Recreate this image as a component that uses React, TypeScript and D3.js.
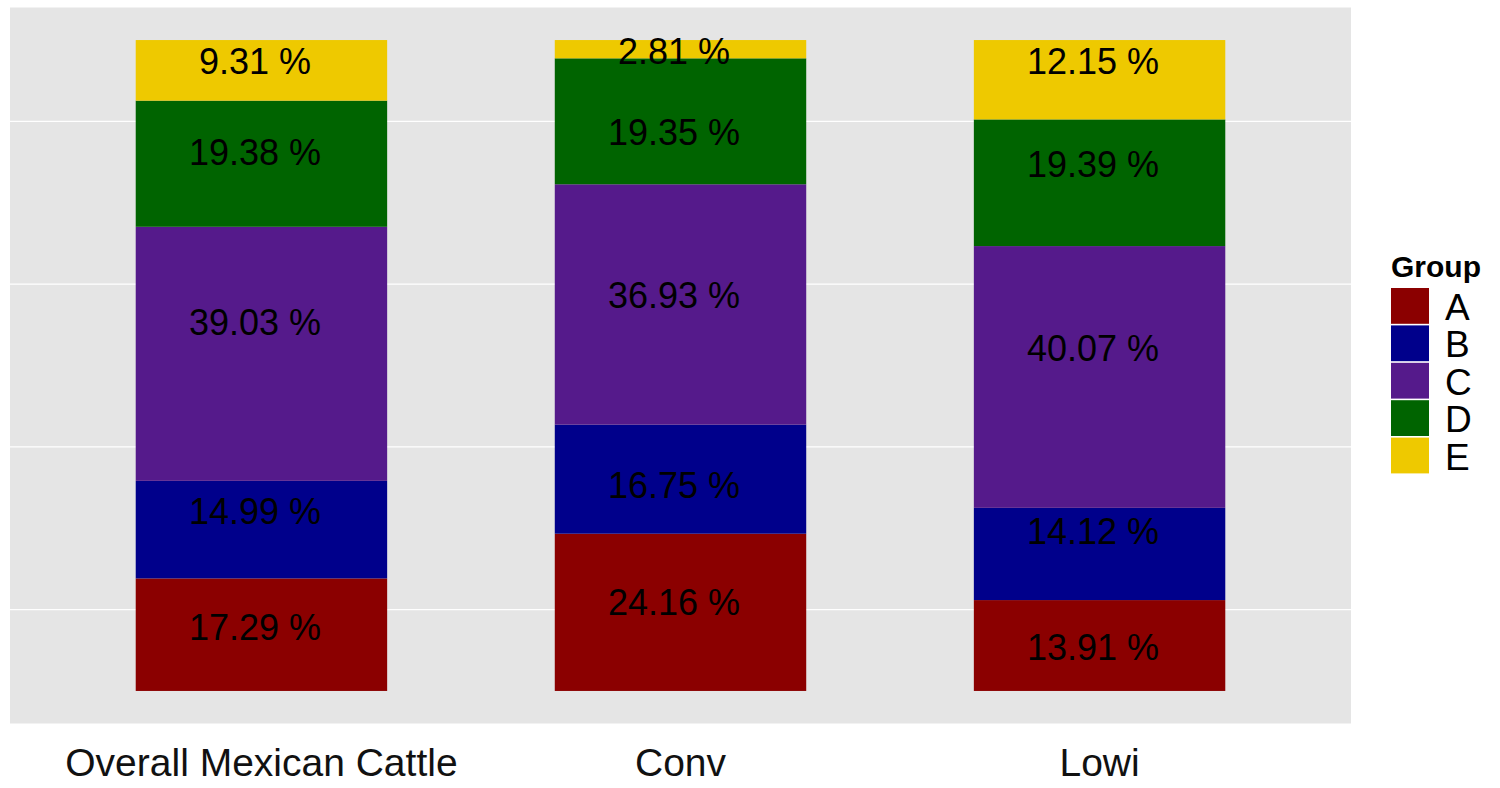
import * as d3 from "d3";
import { useEffect, useRef } from "react";

// categories on the x axis
const categories = ["Overall Mexican Cattle", "Conv", "Lowi"];
const groups = ["A", "B", "C", "D", "E"];
const groupColors = ["#8B0000", "#00008B", "#551A8B", "#006400", "#EEC900"];

// share of each group per category (percent), order A..E
const overall = [17.29, 14.99, 39.03, 19.38, 9.31];
const conv = [24.16, 16.75, 36.93, 19.35, 2.81];
const lowi = [13.91, 14.12, 40.07, 19.39, 12.15];

// where the text labels sit (percent of the bar, from the bottom)
const overallLabelAt = [9.75, 27.65, 56.73, 82.84, 96.77];
const convLabelAt = [13.72, 31.64, 60.83, 85.79, 98.34];
const lowiLabelAt = [6.8, 24.58, 52.69, 80.95, 96.77];

const gridAt = [0.125, 0.375, 0.625, 0.875];

export default function App() {
  const svgRef = useRef<SVGSVGElement | null>(null);

  useEffect(() => {
    document.body.style.margin = "0";
    if (!svgRef.current) return;
    const width = 1500;
    const height = 788;
    const panel = { left: 10, right: 1351, top: 7.5, bottom: 723.5 };
    const font = "'Liberation Sans', Arial, sans-serif";

    const svg = d3.select(svgRef.current);
    svg.selectAll("*").remove();
    svg.attr("width", width).attr("height", height).style("font-family", font);

    svg.append("rect").attr("width", width).attr("height", height).attr("fill", "#fff");

    // rows for the stack
    const series = [overall, conv, lowi];
    const labelAt = [overallLabelAt, convLabelAt, lowiLabelAt];
    const rows = categories.map((c, i) => {
      const r: any = { cat: c };
      groups.forEach((g, j) => (r[g] = series[i][j]));
      return r;
    });

    const x = d3.scaleBand<string>()
      .domain(categories)
      .range([panel.left, panel.right])
      .paddingInner(0.4)
      .paddingOuter(0.3);

    // ggplot style 5% expansion around 0..1
    const y = d3.scaleLinear().domain([-0.05, 1.05]).range([panel.bottom, panel.top]);

    const color = d3.scaleOrdinal<string, string>().domain(groups).range(groupColors);

    // panel background
    svg.append("rect")
      .attr("x", panel.left)
      .attr("y", panel.top)
      .attr("width", panel.right - panel.left)
      .attr("height", panel.bottom - panel.top)
      .attr("fill", "#E5E5E5");

    svg.append("g")
      .selectAll("line")
      .data(gridAt)
      .join("line")
      .attr("x1", panel.left)
      .attr("x2", panel.right)
      .attr("y1", d => y(d))
      .attr("y2", d => y(d))
      .attr("stroke", "#fff")
      .attr("stroke-width", 1.2);

    const stack = d3.stack<any>().keys(groups).offset(d3.stackOffsetExpand);
    const stacked = stack(rows);

    const gBars = svg.append("g");
    stacked.forEach(layer => {
      gBars.append("g")
        .attr("fill", color(layer.key))
        .selectAll("rect")
        .data(layer)
        .join("rect")
        .attr("x", d => x(d.data.cat)!)
        .attr("width", x.bandwidth())
        .attr("y", d => y(d[1]))
        .attr("height", d => y(d[0]) - y(d[1]));
    });

    // percent labels (sit a little left of the bar centre, as in the original)
    const gText = svg.append("g")
      .attr("font-size", 36)
      .attr("text-anchor", "middle")
      .attr("fill", "#000");
    categories.forEach((c, i) => {
      groups.forEach((g, j) => {
        gText.append("text")
          .attr("x", x(c)! + x.bandwidth() / 2)
          .attr("dx", -6.5)
          .attr("y", y(labelAt[i][j] / 100))
          .attr("dy", "0.36em")
          .text(`${series[i][j].toFixed(2)} %`);
      });
    });

    // x axis labels
    svg.append("g")
      .attr("font-size", 39)
      .attr("text-anchor", "middle")
      .attr("fill", "#111")
      .selectAll("text")
      .data(categories)
      .join("text")
      .attr("x", d => x(d)! + x.bandwidth() / 2)
      .attr("y", 776)
      .text(d => d);

    // legend
    const lg = svg.append("g").attr("transform", "translate(1391,0)");
    lg.append("text")
      .attr("x", 0)
      .attr("y", 277)
      .attr("font-size", 30)
      .attr("font-weight", "bold")
      .attr("fill", "#000")
      .text("Group");
    const keyTop = 288;
    const keyStep = 37.4;
    groups.forEach((g, i) => {
      lg.append("rect")
        .attr("x", 0)
        .attr("y", keyTop + i * keyStep)
        .attr("width", 38)
        .attr("height", keyStep - 1.6)
        .attr("fill", color(g));
      lg.append("text")
        .attr("x", 54)
        .attr("y", keyTop + i * keyStep + keyStep / 2)
        .attr("dy", "0.36em")
        .attr("font-size", 37)
        .attr("fill", "#000")
        .text(g);
    });
  }, []);

  return <svg ref={svgRef}></svg>;
}
